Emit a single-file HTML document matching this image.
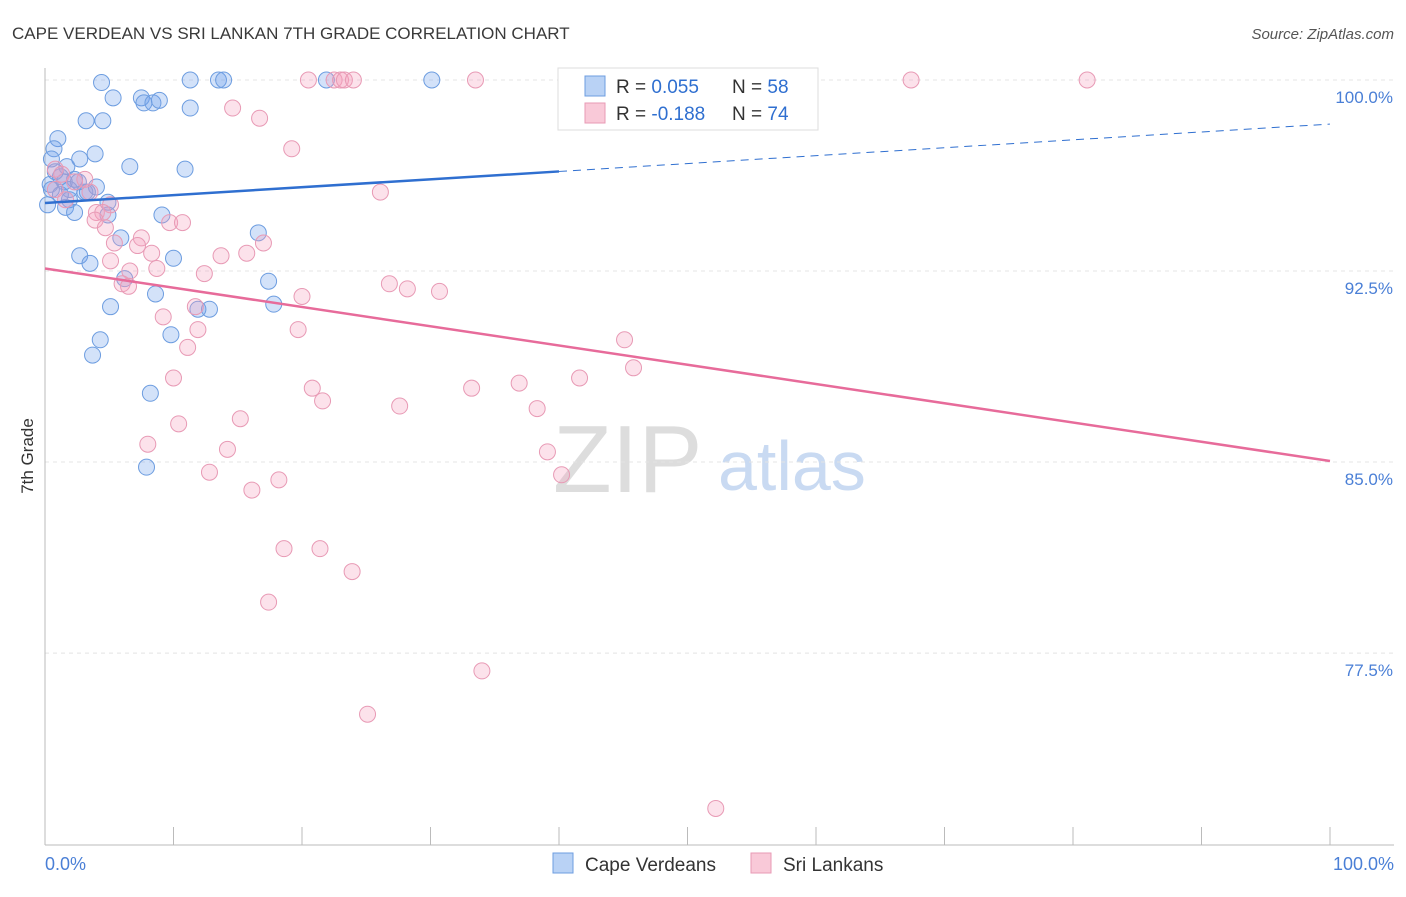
<!DOCTYPE html>
<html><head><meta charset="utf-8"><style>
body{margin:0;background:#fff;font-family:"Liberation Sans",sans-serif}
svg text{font-family:"Liberation Sans",sans-serif}
</style></head><body>
<svg id="c" width="1406" height="892">
<text x="12" y="39" font-size="17" fill="#3a3a3a">CAPE VERDEAN VS SRI LANKAN 7TH GRADE CORRELATION CHART</text>
<text x="1394" y="39" font-size="15" fill="#555" text-anchor="end" font-style="italic">Source: ZipAtlas.com</text>
<text x="33" y="456" font-size="17" fill="#333" text-anchor="middle" transform="rotate(-90 33 456)">7th Grade</text>
<g><text x="553" y="492" font-size="96" fill="#ddd" font-family="Liberation Serif,serif">ZIP</text><text x="718" y="490" font-size="70" fill="#c9daf2">atlas</text></g>
<g id="grid"></g><g id="axes"></g><g id="pts"></g><g id="lines"></g>
<g>
<rect x="558" y="68" width="260" height="62" fill="#fff" stroke="#ddd"/>
<rect x="585" y="76" width="20" height="20" fill="#b9d2f5" stroke="#6d9de0"/>
<rect x="585" y="103" width="20" height="20" fill="#f9c9d8" stroke="#e89ab5"/>
<text x="616" y="93" font-size="19" fill="#333">R = <tspan fill="#2f6fd0">0.055</tspan><tspan x="732">N = </tspan><tspan fill="#2f6fd0">58</tspan></text>
<text x="616" y="120" font-size="19" fill="#333">R = <tspan fill="#2f6fd0">-0.188</tspan><tspan x="732">N = </tspan><tspan fill="#2f6fd0">74</tspan></text>
</g>
<g>
<rect x="553" y="853" width="20" height="20" fill="#b9d2f5" stroke="#6d9de0"/>
<text x="585" y="871" font-size="19" fill="#333">Cape Verdeans</text>
<rect x="751" y="853" width="20" height="20" fill="#f9c9d8" stroke="#e89ab5"/>
<text x="783" y="871" font-size="19" fill="#333">Sri Lankans</text>
</g>
</svg>
<script>
const yTicks=[100,92.5,85,77.5];
const yTickLabels=["100.0%","92.5%","85.0%","77.5%"];
const xLabels=["0.0%","100.0%"];
const blueX=[4.4,11.3,13.5,13.9,21.9,30.1,5.3,7.5,7.7,8.4,8.9,11.3,3.2,4.5,1.0,0.7,3.9,2.7,6.6,10.9,0.5,1.7,1.2,2.3,0.4,1.5,3.1,4.0,1.9,4.9,0.2,1.6,2.3,4.9,9.1,16.6,5.9,10.0,2.7,3.5,17.4,6.2,8.6,5.1,17.8,11.9,12.8,9.8,4.3,3.7,8.2,7.9,0.8,1.9,3.3,0.5,2.6,1.2];
const blueY=[99.9,100,100,100,100,100,99.3,99.3,99.1,99.1,99.2,98.9,98.4,98.4,97.7,97.3,97.1,96.9,96.6,96.5,96.9,96.6,96.2,96.1,95.9,96.0,95.6,95.8,95.3,95.2,95.1,95.0,94.8,94.7,94.7,94.0,93.8,93.0,93.1,92.8,92.1,92.2,91.6,91.1,91.2,91.0,91.0,90.0,89.8,89.2,87.7,84.8,96.4,95.7,95.6,95.7,96.0,95.5];
const pinkX=[20.5,22.5,23.0,23.3,24.0,33.5,67.4,81.1,14.6,16.7,19.2,26.1,0.8,1.3,2.3,0.8,3.5,5.1,4.0,4.5,3.9,4.7,7.5,9.7,10.7,5.4,7.2,8.3,17.0,15.7,13.7,6.6,8.7,12.4,6.0,6.5,26.8,28.2,30.7,20.0,11.7,11.9,9.2,19.7,11.1,45.1,45.8,10.0,41.6,36.9,33.2,20.8,21.6,27.6,38.3,15.2,10.4,8.0,14.2,39.1,12.8,40.2,18.2,16.1,18.6,21.4,23.9,17.4,34.0,25.1,52.2,1.6,3.1,5.1];
const pinkY=[100,100,100,100,100,100,100,100,98.9,98.5,97.3,95.6,96.5,96.3,96.0,95.7,95.6,95.1,94.8,94.8,94.5,94.2,93.8,94.4,94.4,93.6,93.5,93.2,93.6,93.2,93.1,92.5,92.6,92.4,92.0,91.9,92.0,91.8,91.7,91.5,91.1,90.2,90.7,90.2,89.5,89.8,88.7,88.3,88.3,88.1,87.9,87.9,87.4,87.2,87.1,86.7,86.5,85.7,85.5,85.4,84.6,84.5,84.3,83.9,81.6,81.6,80.7,79.5,76.8,75.1,71.4,95.3,96.1,92.9];
const blueTrend=[95.17,98.27];
const pinkTrend=[92.6,85.04];
const NS="http://www.w3.org/2000/svg";
const X=v=>45+v*12.85, Y=v=>80+(100-v)*25.47;
function mk(t,a,p){const e=document.createElementNS(NS,t);for(const k in a)e.setAttribute(k,a[k]);document.getElementById(p).appendChild(e);return e;}
yTicks.forEach((t,i)=>{
 const g=mk('line',{x1:45,x2:1394,y1:Y(t),y2:Y(t),stroke:'#e4e4e4','stroke-dasharray':'4 4'},'grid');
 
 
 const l=mk('text',{x:1393,y:Y(t)+23,'font-size':17,fill:'#4a7fd6','text-anchor':'end'},'grid');l.textContent=yTickLabels[i];
 
 
});
const ax=mk('line',{x1:45,x2:45,y1:68,y2:845,stroke:'#bbb'},'axes');


const bx=mk('line',{x1:45,x2:1394,y1:845,y2:845,stroke:'#bbb'},'axes');


for(let i=0;i<=10;i++){const t=mk('line',{x1:X(i*10),x2:X(i*10),y1:827,y2:845,stroke:'#bbb'},'axes');
 
 }
[[0,'start',45],[100,'end',1394]].forEach((d,i)=>{const t=mk('text',{x:d[2],y:870,'font-size':18,fill:'#4a7fd6','text-anchor':d[1]},'axes');t.textContent=xLabels[i];
 
 });
blueX.forEach((v,i)=>{const c=mk('circle',{cx:X(v),cy:Y(blueY[i]),r:8,fill:'rgba(110,160,235,0.3)',stroke:'#6d9de0','stroke-width':1},'pts');
 
 });
pinkX.forEach((v,i)=>{const c=mk('circle',{cx:X(v),cy:Y(pinkY[i]),r:8,fill:'rgba(245,160,190,0.3)',stroke:'#e89ab5','stroke-width':1},'pts');
 
 });
const bAt=x=>blueTrend[0]+(blueTrend[1]-blueTrend[0])*x/100;
let l1=mk('line',{x1:X(0),y1:Y(bAt(0)),x2:X(40),y2:Y(bAt(40)),stroke:'#2f6fd0','stroke-width':2.5},'lines');


let l2=mk('line',{x1:X(40),y1:Y(bAt(40)),x2:X(100),y2:Y(bAt(100)),stroke:'#2f6fd0','stroke-width':1,'stroke-dasharray':'8 6'},'lines');


let l3=mk('line',{x1:X(0),y1:Y(pinkTrend[0]),x2:X(100),y2:Y(pinkTrend[1]),stroke:'#e76b9a','stroke-width':2.5},'lines');


</script>
</body></html>
